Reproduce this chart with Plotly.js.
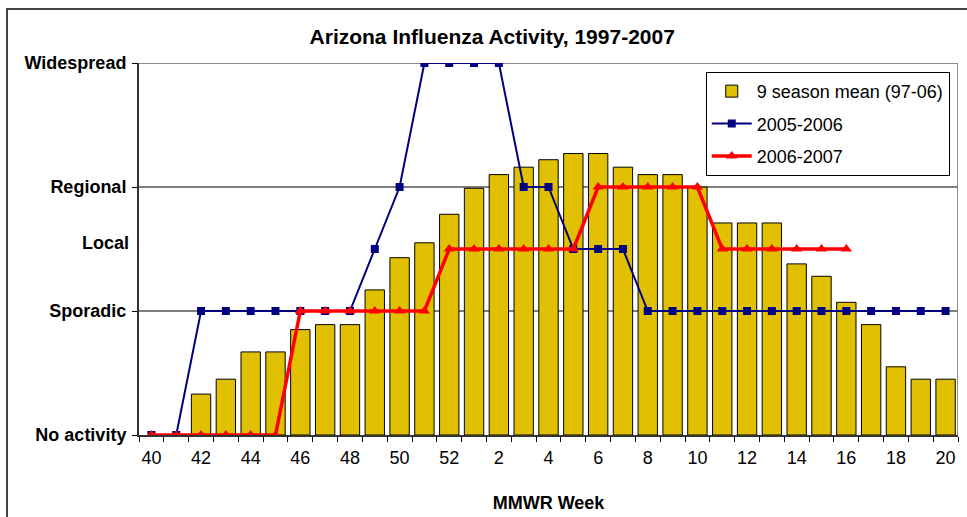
<!DOCTYPE html>
<html>
<head>
<meta charset="utf-8">
<script src="https://cdn.plot.ly/plotly-3.0.1.min.js"></script>
<style>
  html, body { margin: 0; padding: 0; background: #fff; overflow: hidden; }
  #wrap { position: relative; width: 967px; height: 517px; }
  #chart { position: absolute; left: 0; top: 0; width: 967px; height: 517px; }
  #frame { position: absolute; left: 6px; top: 8px; width: 1000px; height: 600px;
           border-left: 2px solid #444; border-top: 2px solid #444; pointer-events: none; }
</style>
</head>
<body>
<div id="wrap">
  <div id="chart"></div>
  <div id="frame"></div>
</div>
<script>
// MMWR weeks (categories)
const weeks = ['40','41','42','43','44','45','46','47','48','49','50','51','52',
               '1','2','3','4','5','6','7','8','9','10','11','12','13','14','15','16','17','18','19','20'];
// 9 season mean (97-06), activity level scale: 0 none, 1 sporadic, 1.5 local, 2 regional, 3 widespread
const seasonMean = [null,null,0.33,0.45,0.67,0.67,0.85,0.89,0.89,1.17,1.43,1.55,1.78,
                    1.99,2.10,2.16,2.22,2.27,2.27,2.16,2.10,2.10,2.00,1.71,1.71,1.71,1.38,1.28,1.07,0.89,0.55,0.45,0.45];
const season0506 = [0,0,1,1,1,1,1,1,1,1.5,2,3,3,
                    3,3,2,2,1.5,1.5,1.5,1,1,1,1,1,1,1,1,1,1,1,1,1];
const season0607 = [0,0,0,0,0,0,1,1,1,1,1,1,1.5,
                    1.5,1.5,1.5,1.5,1.5,2,2,2,2,2,1.5,1.5,1.5,1.5,1.5,1.5,null,null,null,null];
// y-axis level labels
const levelVals = [0,1,2,3];
const levelText = ['No activity','Sporadic','Regional','Widespread'];
const localVal = 1.55;
const localText = 'Local';
const seriesNames = ['9 season mean (97-06)','2005-2006','2006-2007'];

const tickText = weeks.map((w,i) => (i % 2 === 0 ? w : ''));
const FONT = 'Liberation Sans, Arial, sans-serif';
const xLo = -0.5, xHi = weeks.length - 0.5;

const traces = [
  { type:'bar', x: weeks, y: seasonMean, name: seriesNames[0], legendgroup:'a',
    marker:{ color:'#E0C000', line:{ color:'#000', width:1 } } },
  { type:'scatter', mode:'lines+markers', x: weeks, y: season0506, name: seriesNames[1], legendgroup:'b',
    line:{ color:'#000080', width:2 }, marker:{ symbol:'square', size:8, color:'#000080' } },
  { type:'scatter', mode:'lines+markers', x: weeks, y: season0607, name: seriesNames[2], legendgroup:'c',
    line:{ color:'#FF0000', width:3.5 }, marker:{ symbol:'triangle-up', size:10, color:'#FF0000' } }
];

const layout = {
  width: 967, height: 517,
  margin: { l:139, r:9, t:63, b:82 },
  paper_bgcolor:'rgba(0,0,0,0)', plot_bgcolor:'#fff',
  font: { family: FONT, size: 18, color:'#000' },
  title: { text:'<b>Arizona Influenza Activity, 1997-2007</b>', font:{ family: FONT, size:21, color:'#000' },
           x: 0.509, xref:'container', xanchor:'center', y: 1 - 37/517, yref:'container', yanchor:'middle' },
  bargap: 0.22,
  showlegend: true,
  legend: { x: 0.692, y: 0.976, xanchor:'left', yanchor:'top', bgcolor:'#fff', bordercolor:'#000', borderwidth:1,
            font:{ family: FONT, size:18, color:'#000' }, itemwidth: 40, tracegroupgap: 6, traceorder:'grouped' },
  xaxis: { type:'category', range:[xLo, xHi], autorange:false,
           tickvals: weeks, ticktext: tickText, tickson:'boundaries', ticks:'outside', ticklen:5, tickangle:0,
           tickcolor:'#000', showline:true, linecolor:'#333', linewidth:2, showgrid:false, zeroline:false,
           tickfont:{ family: FONT, size:18, color:'#000' }, ticklabelstandoff: 5,
           title:{ text:'<b>MMWR Week</b>', font:{ family: FONT, size:18, color:'#000' }, standoff: 30 } },
  yaxis: { range:[0,3], autorange:false, tickvals: levelVals, ticktext: levelText.map(t => '<b>'+t+'</b>'), ticks:'outside', ticklen:5,
           tickcolor:'#000', showline:true, linecolor:'#333', linewidth:2, showgrid:false, zeroline:false,
           tickfont:{ family: FONT, size:18, color:'#000' }, ticklabelstandoff: 2 },
  shapes: [
    { type:'line', xref:'x', yref:'y', x0:xLo, x1:xHi, y0:levelVals[1], y1:levelVals[1], line:{ color:'#000', width:1.2 }, layer:'between' },
    { type:'line', xref:'x', yref:'y', x0:xLo, x1:xHi, y0:levelVals[2], y1:levelVals[2], line:{ color:'#000', width:1.2 }, layer:'between' },
    { type:'line', xref:'x', yref:'y', x0:xLo, x1:xHi, y0:levelVals[3], y1:levelVals[3], line:{ color:'#8c8c8c', width:2 }, layer:'between' },
    { type:'line', xref:'x', yref:'y', x0:xHi, x1:xHi, y0:0, y1:levelVals[3], line:{ color:'#8c8c8c', width:2 }, layer:'between' }
  ],
  annotations: [
    { text:'<b>'+localText+'</b>', xref:'paper', yref:'y', x:0, y: localVal, xanchor:'right', yanchor:'middle',
      xshift:-8, showarrow:false, font:{ family: FONT, size:18, color:'#000' } }
  ]
};

Plotly.newPlot('chart', traces, layout, { displayModeBar:false, staticPlot:true });
</script>
</body>
</html>
